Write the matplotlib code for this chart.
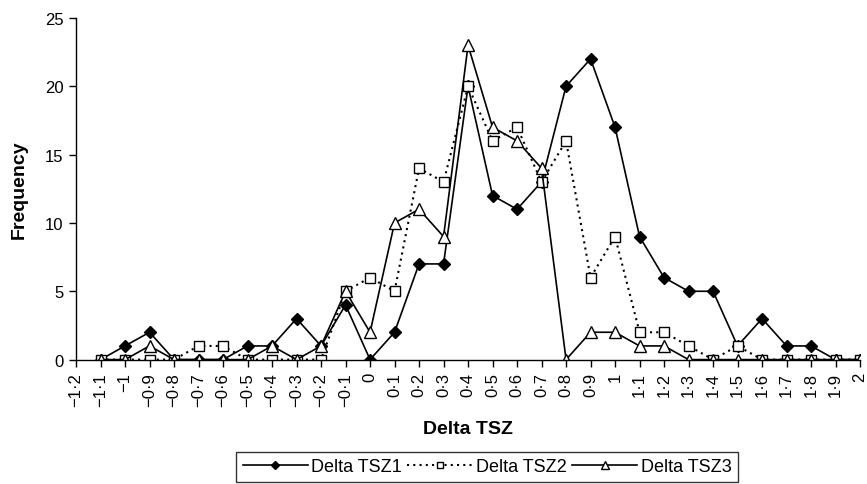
import numpy as np
import matplotlib
matplotlib.use('Agg')
import matplotlib.pyplot as plt

plt.rcParams['font.family'] = ['Liberation Sans', 'DejaVu Sans']

# categories on the x axis (Excel-style category axis)
categories = ['\u22121\u00b72', '\u22121\u00b71', '\u22121', '\u22120\u00b79', '\u22120\u00b78',
              '\u22120\u00b77', '\u22120\u00b76', '\u22120\u00b75', '\u22120\u00b74', '\u22120\u00b73',
              '\u22120\u00b72', '\u22120\u00b71', '0', '0\u00b71', '0\u00b72', '0\u00b73', '0\u00b74',
              '0\u00b75', '0\u00b76', '0\u00b77', '0\u00b78', '0\u00b79', '1', '1\u00b71', '1\u00b72',
              '1\u00b73', '1\u00b74', '1\u00b75', '1\u00b76', '1\u00b77', '1\u00b78', '1\u00b79', '2']

nan = np.nan
tsz1 = [nan, 0, 1, 2, 0, 0, 0, 1, 1, 3, 1, 4, 0, 2, 7, 7, 20, 12, 11, 13, 20, 22, 17,
        9, 6, 5, 5, 1, 3, 1, 1, 0, 0]
tsz2 = [nan, 0, 0, 0, 0, 1, 1, 0, 0, 0, 0, 5, 6, 5, 14, 13, 20, 16, 17, 13, 16, 6, 9,
        2, 2, 1, 0, 1, 0, 0, 0, 0, 0]
tsz3 = [nan, 0, 0, 1, 0, 0, 0, 0, 1, 0, 1, 5, 2, 10, 11, 9, 23, 17, 16, 14, 0, 2, 2,
        1, 1, 0, 0, 0, 0, 0, 0, 0, 0]

yticks = [0, 5, 10, 15, 20, 25]


def main():
    fig = plt.figure(figsize=(8.67, 4.85), dpi=100)
    ax = fig.add_axes([0.0877, 0.2565, 0.9043, 0.7045])

    x = np.arange(len(categories))
    ax.plot(x, tsz1, color='black', lw=1.2, marker='D', ms=6.5,
            mfc='black', mec='black', label='Delta TSZ1')
    ax.plot(x, tsz2, color='black', lw=1.5, ls=(0, (1, 2)), marker='s', ms=7,
            mfc='white', mec='black', mew=1.0, label='Delta TSZ2')
    ax.plot(x, tsz3, color='black', lw=1.2, marker='^', ms=8.5,
            mfc='white', mec='black', mew=1.0, label='Delta TSZ3')

    ax.set_xlim(0, len(categories) - 1)
    ax.set_ylim(0, 25)
    ax.set_xticks(x)
    ax.set_xticklabels(categories, rotation=90, fontsize=12)
    ax.set_yticks(yticks)
    ax.set_yticklabels([str(v) for v in yticks], fontsize=12)
    ax.tick_params(direction='out', length=5, width=1, color='black', pad=4)

    for s in ['top', 'right']:
        ax.spines[s].set_visible(False)
    for s in ['left', 'bottom']:
        ax.spines[s].set_linewidth(1.0)
        ax.spines[s].set_clip_on(False)

    ax.set_xlabel('Delta TSZ', fontsize=14, fontweight='bold', labelpad=10)
    ax.set_ylabel('Frequency', fontsize=14, fontweight='bold', labelpad=12)

    leg = fig.legend(loc='upper center', bbox_to_anchor=(487 / 867, 1 - 453 / 485),
                     ncol=3, fontsize=13, frameon=True, fancybox=False,
                     edgecolor='black', handlelength=3.6, handletextpad=0.2,
                     columnspacing=0.3, markerscale=0.6, borderpad=0.35,
                     borderaxespad=0)
    leg.get_frame().set_linewidth(1.0)

    fig.savefig('out.png', dpi=100)
    plt.close(fig)


if __name__ == '__main__':
    main()
